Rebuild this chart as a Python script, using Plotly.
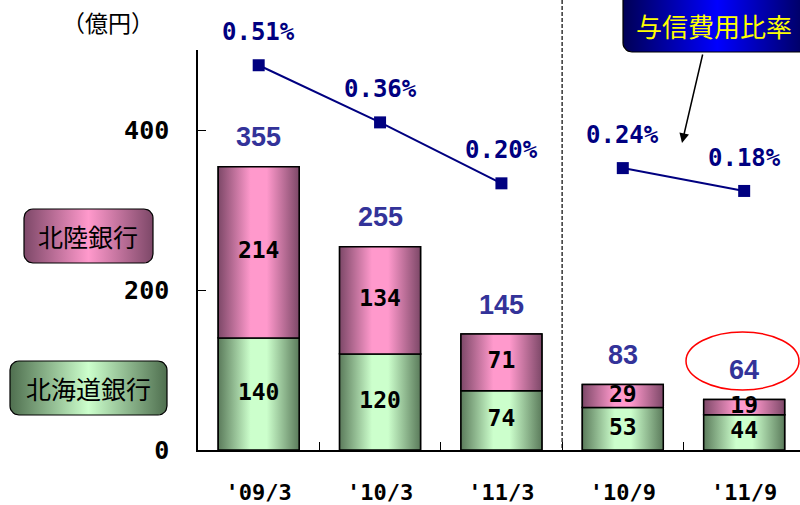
import numpy as np
import plotly.graph_objects as go

# ---------------- data ----------------
categories = ["'09/3", "'10/3", "'11/3", "'10/9", "'11/9"]
hokkaido = [140, 120, 74, 53, 44]      # 北海道銀行
hokuriku = [214, 134, 71, 29, 19]      # 北陸銀行
totals = [355, 255, 145, 83, 64]
ratio = [0.51, 0.36, 0.20, 0.24, 0.18]  # 与信費用比率 (%)
y_ticks = [0, 200, 400]

# ---------------- styles ----------------
GREEN_DARK, GREEN_LIGHT = "#5b7b5b", "#ccffcc"
PINK_DARK, PINK_LIGHT = "#7d4868", "#ff99cc"
NAVY = "#000080"
TOTAL_COLOR = "#333399"
MONO = "DejaVu Sans Mono"
JP = "Noto Sans CJK JP"
BAR_W = 0.667

def grad(dark, light):
    return dict(type="horizontal",
                colorscale=[[0, dark], [0.4, light], [0.6, light], [1, dark]])

x = list(range(len(categories)))
fig = go.Figure()

# base bars (library bars)
fig.add_trace(go.Bar(x=x, y=hokkaido, width=BAR_W, name="北海道銀行",
                     marker=dict(color=GREEN_LIGHT, line=dict(color="black", width=1.5)),
                     xaxis="x", yaxis="y", hoverinfo="skip"))
fig.add_trace(go.Bar(x=x, y=hokuriku, base=hokkaido, width=BAR_W, name="北陸銀行",
                     marker=dict(color=PINK_LIGHT, line=dict(color="black", width=1.5)),
                     xaxis="x", yaxis="y", hoverinfo="skip"))

# gradient overlays following the same data
for i in x:
    for b, v, dk, lt in ((0, hokkaido[i], GREEN_DARK, GREEN_LIGHT),
                         (hokkaido[i], hokuriku[i], PINK_DARK, PINK_LIGHT)):
        x0, x1 = i - BAR_W / 2, i + BAR_W / 2
        fig.add_trace(go.Scatter(
            x=[x0, x1, x1, x0, x0], y=[b, b, b + v, b + v, b],
            mode="lines", fill="toself", fillgradient=grad(dk, lt),
            line=dict(color="black", width=1.5), hoverinfo="skip",
            showlegend=False, xaxis="x", yaxis="y"))

# segment labels
fig.add_trace(go.Scatter(
    x=x + x,
    y=[h / 2 for h in hokkaido] + [h + k / 2 for h, k in zip(hokkaido, hokuriku)],
    text=[str(v) for v in hokkaido] + [str(v) for v in hokuriku],
    mode="text", textfont=dict(family=MONO, size=23, color="black", weight="bold"),
    showlegend=False, hoverinfo="skip", xaxis="x", yaxis="y"))

# ratio line (two segments)
for xs, ys in ((x[:3], ratio[:3]), (x[3:], ratio[3:])):
    fig.add_trace(go.Scatter(
        x=xs, y=ys, mode="lines+markers",
        line=dict(color=NAVY, width=2),
        marker=dict(symbol="square", size=12, color=NAVY),
        showlegend=False, xaxis="x", yaxis="y2"))

annotations = []
for i in x:
    annotations.append(dict(x=i, y=totals[i], xref="x", yref="y", text=str(totals[i]),
                            showarrow=False, yanchor="middle", yshift=29,
                            font=dict(family="Liberation Sans", size=27,
                                      color=TOTAL_COLOR, weight="bold")))
    annotations.append(dict(x=i, y=ratio[i], xref="x", yref="y2", text=f"{ratio[i]:.2f}%",
                            showarrow=False, yanchor="middle", yshift=33,
                            font=dict(family=MONO, size=24, color=NAVY, weight="bold")))

# ---------------- decorations (pixel-space subplot) ----------------
def rounded_rect(x0, y0, x1, y1, r=9, n=8):
    pts = []
    corners = [(x1 - r, y0 + r, -90, 0), (x1 - r, y1 - r, 0, 90),
               (x0 + r, y1 - r, 90, 180), (x0 + r, y0 + r, 180, 270)]
    for cx, cy, a0, a1 in corners:
        for a in np.linspace(np.radians(a0), np.radians(a1), n):
            pts.append((cx + r * np.cos(a), cy + r * np.sin(a)))
    pts.append(pts[0])
    return [p[0] for p in pts], [p[1] for p in pts]

boxes = [
    (24, 209, 153, 263, PINK_DARK, PINK_LIGHT, "北陸銀行", "black", 88, 236),
    (10, 361, 167, 415, "#4f6f4f", GREEN_LIGHT, "北海道銀行", "black", 88, 388),
    (623, -15, 812, 52, "#000055", "#0000ff", "与信費用比率", "#ffff00", 714, 25),
]
for bx0, by0, bx1, by1, dk, lt, label, tc, cx, cy in boxes:
    px, py = rounded_rect(bx0, by0, bx1, by1)
    fig.add_trace(go.Scatter(
        x=px, y=py, mode="lines", fill="toself",
        fillgradient=dict(type="horizontal",
                          colorscale=[[0, dk], [0.5, lt], [1, dk]]),
        line=dict(color="black", width=1.2), hoverinfo="skip",
        showlegend=False, xaxis="x2", yaxis="y3"))
    annotations.append(dict(x=cx, y=cy, xref="x2", yref="y3", text=label,
                            showarrow=False,
                            font=dict(family=JP, size=26 if tc != "black" else 25,
                                      color=tc)))

annotations.append(dict(x=108, y=22, xref="x2", yref="y3", text="（億円）",
                        showarrow=False, font=dict(family=JP, size=23, color="black")))
annotations.append(dict(x=682, y=143, xref="x2", yref="y3", ax=703, ay=53,
                        axref="x2", ayref="y3", text="", showarrow=True,
                        arrowhead=2, arrowsize=1.3, arrowwidth=1.5, arrowcolor="black"))

shapes = [
    dict(type="line", xref="x", yref="y3", x0=2.5, x1=2.5, y0=0, y1=450,
         line=dict(color="black", width=1.2, dash="4px,2px")),
    dict(type="circle", xref="x2", yref="y3", x0=686, x1=799, y0=332, y1=390,
         line=dict(color="red", width=1.5)),
]

fig.update_layout(
    width=800, height=505, margin=dict(l=0, r=0, t=0, b=0, autoexpand=False),
    paper_bgcolor="white", plot_bgcolor="rgba(0,0,0,0)",
    showlegend=False, barmode="overlay",
    annotations=annotations, shapes=shapes,
    xaxis=dict(domain=[198 / 800, 1], range=[-0.5, 4.46], anchor="y",
               automargin=False,
               tickvals=x, ticktext=categories, ticks="", showgrid=False,
               zeroline=False, showline=True, linecolor="black", linewidth=1.5,
               tickfont=dict(family=MONO, size=22, color="black", weight="bold"),
               ticklabelstandoff=22,
               minor=dict(tickvals=[0.5, 1.5, 2.5, 3.5], ticks="inside",
                          ticklen=8, tickcolor="black", tickwidth=1)),
    yaxis=dict(domain=[55 / 505, 455 / 505], range=[0, 500], anchor="x",
               automargin=False,
               tickvals=y_ticks, ticks="inside", ticklen=8, tickcolor="black",
               showgrid=False, zeroline=False, showline=True, linecolor="black",
               linewidth=1.5, ticklabelstandoff=22,
               tickfont=dict(family=MONO, size=25, color="black", weight="bold")),
    yaxis2=dict(overlaying="y", range=[-0.5, 0.55], visible=False, anchor="x"),
    xaxis2=dict(domain=[0, 1], range=[0, 800], visible=False, anchor="y3",
                fixedrange=True, automargin=False),
    yaxis3=dict(domain=[0, 1], range=[505, 0], visible=False, anchor="x2",
                fixedrange=True, automargin=False),
)

fig.write_html("out.html",
               config={"displayModeBar": False},
               post_script="document.body.style.margin='0';"
                           "document.body.style.overflow='hidden';")
